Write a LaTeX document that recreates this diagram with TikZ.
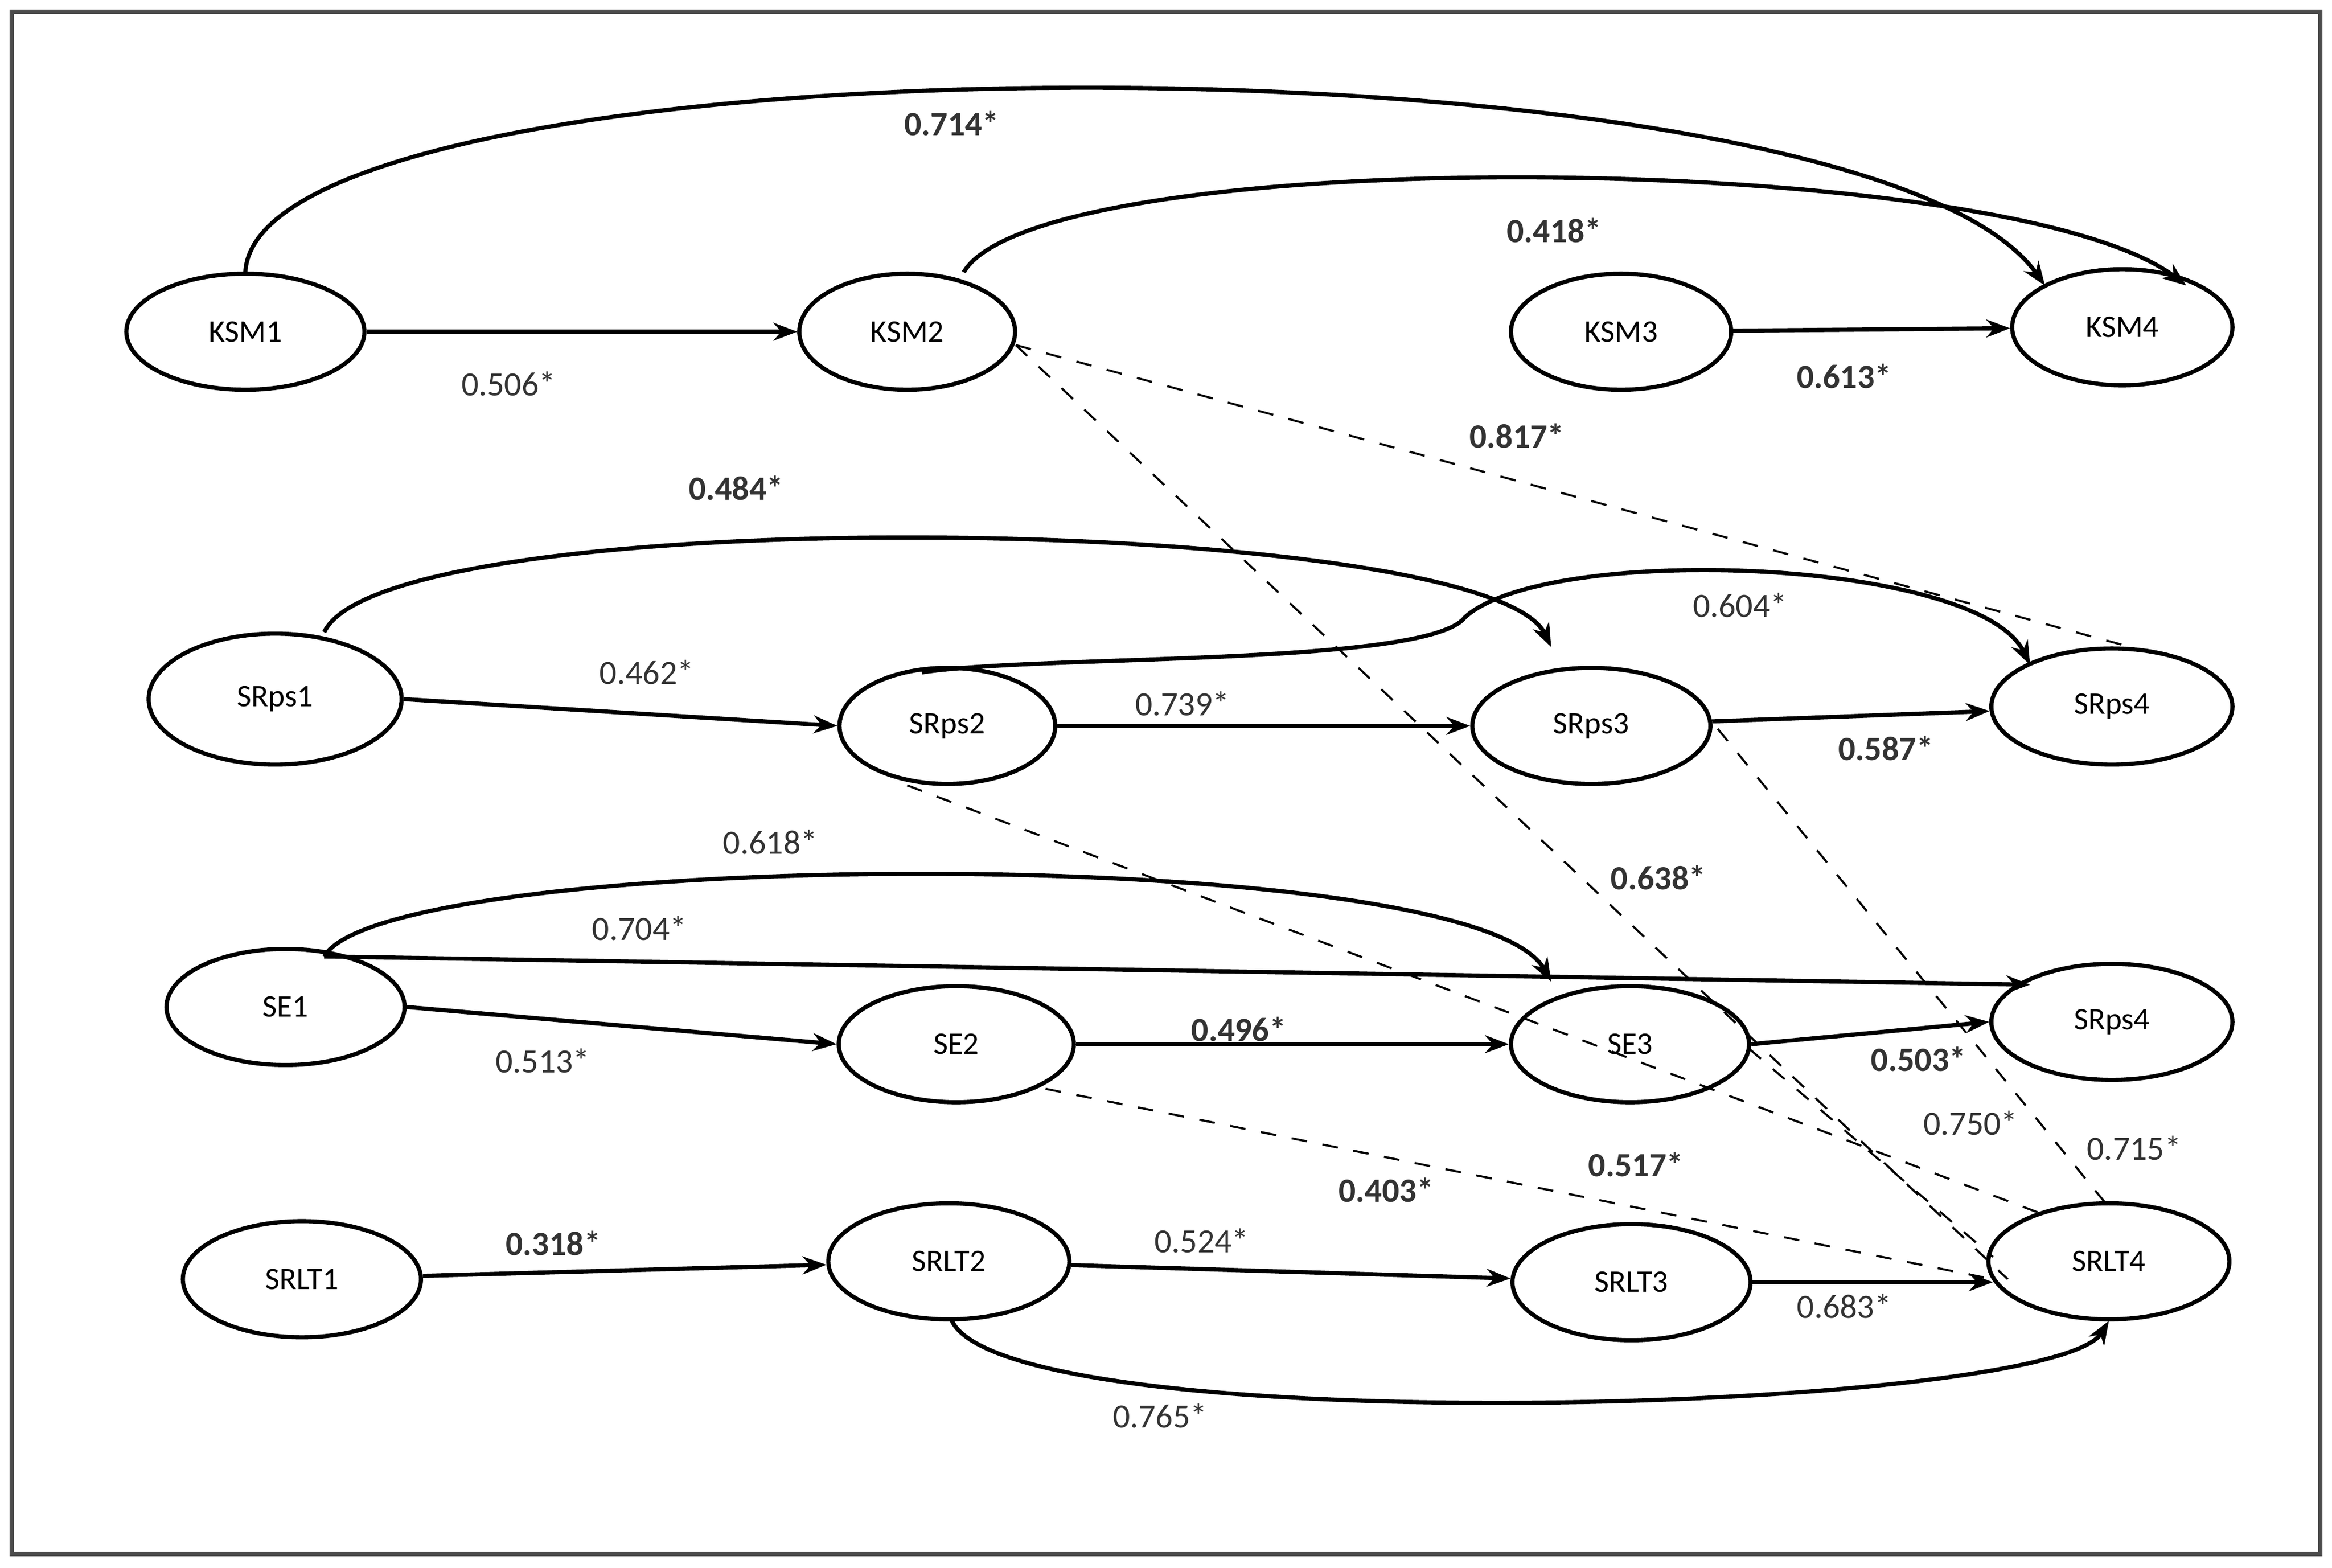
\documentclass[tikz,border=0pt]{standalone}
\usepackage{fontspec}
\setmainfont{Carlito}
\usetikzlibrary{arrows.meta,shapes.geometric}
\begin{document}
\begin{tikzpicture}[x=0.01cm,y=-0.01cm,
  st/.style={draw,ellipse,thick,minimum width=#1,minimum height=0.78cm,inner sep=0pt,font=\fontsize{6}{7}\selectfont},
  st/.default=1.6cm,
  arr/.style={thick,-{Stealth[length=0.16cm,width=0.12cm]}},
  dsh/.style={dashed,thin},
  lb/.style={font=\fontsize{6.5}{8}\selectfont,text=black!80}]
\path[use as bounding box] (0,0) rectangle (1568,1054);
\draw[thick,black!70] (8,8) rectangle (1560,1045);
\node[st=1.6cm] (KSM1) at (165,223) {KSM1};
\node[st=1.45cm] (KSM2) at (610,223) {KSM2};
\node[st=1.48cm] (KSM3) at (1090,223) {KSM3};
\node[st=1.48cm] (KSM4) at (1427,220) {KSM4};
\node[st=1.7cm,minimum height=0.88cm] (SRps1) at (185,470) {SRps1};
\node[st=1.45cm] (SRps2) at (637,488) {SRps2};
\node[st=1.6cm] (SRps3) at (1070,488) {SRps3};
\node[st=1.62cm] (SRps4a) at (1420,475) {SRps4};
\node[st=1.6cm] (SE1) at (192,677) {SE1};
\node[st=1.58cm] (SE2) at (643,702) {SE2};
\node[st=1.6cm] (SE3) at (1096,702) {SE3};
\node[st=1.62cm] (SRps4b) at (1420,687) {SRps4};
\node[st=1.6cm] (SRLT1) at (203,860) {SRLT1};
\node[st=1.62cm] (SRLT2) at (638,848) {SRLT2};
\node[st=1.6cm] (SRLT3) at (1097,862) {SRLT3};
\node[st=1.62cm] (SRLT4) at (1418,848) {SRLT4};
% solid
\draw[arr] (KSM1) -- (KSM2);
\draw[arr] (KSM3) -- (KSM4);
\draw[arr] (KSM1.north) .. controls (175,20) and (1250,15) .. (1375,192);
\draw[arr] (648,183) .. controls (700,95) and (1350,100) .. (1470,192);
\draw[arr] (SRps1.east) -- (SRps2.west);
\draw[arr] (SRps2) -- (SRps3);
\draw[arr] (SRps3) -- (SRps4a);
\draw[arr] (218,425) .. controls (260,335) and (1000,345) .. (1043,435);
\draw[arr] (620,452) .. controls (700,440) and (960,448) .. (985,415) .. controls (1040,365) and (1330,375) .. (1365,447);
\draw[arr] (SE1.east) -- (SE2.west);
\draw[arr] (SE2) -- (SE3);
\draw[arr] (SE3.east) -- (SRps4b.west);
\draw[arr] (218,643) .. controls (260,570) and (990,565) .. (1043,660);
\draw[arr] (218,643) -- (1365,662);
\draw[arr] (SRLT1) -- (SRLT2);
\draw[arr] (SRLT2) -- (SRLT3);
\draw[arr] (SRLT3) -- (1340,862);
\draw[arr] (640,888) .. controls (680,970) and (1380,950) .. (1418,888);
% dashed
\draw[dsh] (683,232) -- (1440,437);
\draw[dsh] (683,232) -- (1350,860);
\draw[dsh] (1155,490) -- (1415,808);
\draw[dsh] (610,528) -- (1370,815);
\draw[dsh] (703,732) -- (1340,860);
\draw[dsh] (1176,705) -- (1340,845);
% labels
\node[lb] at (342,258) {0.506*};
\node[lb,font=\fontsize{6.5}{8}\bfseries] at (640,83) {0.714*};
\node[lb,font=\fontsize{6.5}{8}\bfseries] at (1045,155) {0.418*};
\node[lb,font=\fontsize{6.5}{8}\bfseries] at (1240,253) {0.613*};
\node[lb,font=\fontsize{6.5}{8}\bfseries] at (1020,293) {0.817*};
\node[lb,font=\fontsize{6.5}{8}\bfseries] at (495,328) {0.484*};
\node[lb] at (1170,407) {0.604*};
\node[lb] at (435,452) {0.462*};
\node[lb] at (795,473) {0.739*};
\node[lb,font=\fontsize{6.5}{8}\bfseries] at (1268,503) {0.587*};
\node[lb,font=\fontsize{6.5}{8}\bfseries] at (1115,590) {0.638*};
\node[lb] at (518,566) {0.618*};
\node[lb] at (430,624) {0.704*};
\node[lb] at (365,713) {0.513*};
\node[lb,font=\fontsize{6.5}{8}\bfseries] at (833,692) {0.496*};
\node[lb,font=\fontsize{6.5}{8}\bfseries] at (1290,712) {0.503*};
\node[lb] at (1325,755) {0.750*};
\node[lb] at (1435,772) {0.715*};
\node[lb,font=\fontsize{6.5}{8}\bfseries] at (1100,783) {0.517*};
\node[lb,font=\fontsize{6.5}{8}\bfseries] at (932,800) {0.403*};
\node[lb,font=\fontsize{6.5}{8}\bfseries] at (372,836) {0.318*};
\node[lb] at (808,834) {0.524*};
\node[lb] at (1240,878) {0.683*};
\node[lb] at (780,952) {0.765*};
\end{tikzpicture}
\end{document}
